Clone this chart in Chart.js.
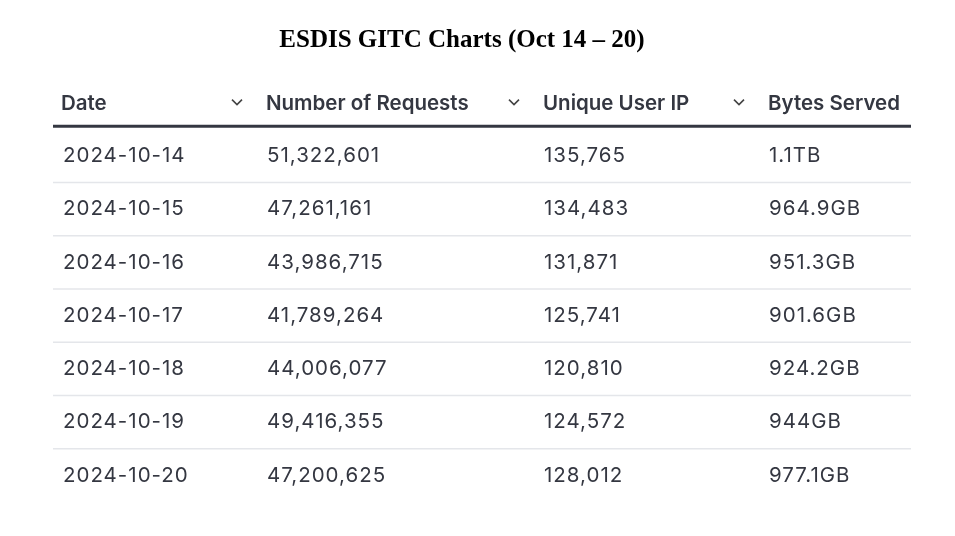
<!DOCTYPE html>
<html><head><meta charset="utf-8">
<script src="https://cdn.jsdelivr.net/npm/chart.js@4/dist/chart.umd.min.js"></script>
<style>html,body{margin:0;background:#fff}#wrap{width:955px;height:536px}</style>
</head><body><div id="wrap"><canvas id="c"></canvas></div>
<script>
const headers = ['Date','Number of Requests','Unique User IP','Bytes Served'];
const dates = ['2024-10-14','2024-10-15','2024-10-16','2024-10-17','2024-10-18','2024-10-19','2024-10-20'];
const requests = ['51,322,601','47,261,161','43,986,715','41,789,264','44,006,077','49,416,355','47,200,625'];
const uniqueIPs = ['135,765','134,483','131,871','125,741','120,810','124,572','128,012'];
const bytesServed = ['1.1TB','964.9GB','951.3GB','901.6GB','924.2GB','944GB','977.1GB'];
const titleText = 'ESDIS GITC Charts (Oct 14 \u2013 20)';

const colStart = [0, 202, 479, 704];
const tablePlugin = {
  id:'table',
  afterDraw(chart){
    const ctx = chart.ctx, y = chart.scales.y, a = chart.chartArea;
    const L = a.left, R = a.right;
    const cols = [dates, requests, uniqueIPs, bytesServed];
    ctx.save();
    ctx.fillStyle = '#000'; ctx.font = 'bold 25px "Liberation Serif", "Times New Roman", serif';
    ctx.textAlign = 'center'; ctx.textBaseline = 'middle';
    ctx.fillText(titleText, 462, 41);
    ctx.textAlign = 'left';
    const rowH = Math.abs(y.getPixelForValue(1) - y.getPixelForValue(0));
    const hy = y.getPixelForValue(0);
    ctx.font = '600 20.5px Inter, "Noto Sans", sans-serif'; ctx.fillStyle = '#343741';
    headers.forEach((h,i)=>{ ctx.fillText(h, L + colStart[i] + (i===0?8:11), hy+1); });
    ctx.strokeStyle = '#444'; ctx.lineWidth = 1.6;
    [colStart[1], colStart[2], colStart[3]].forEach(cx=>{
      const x = L + cx - 18;
      ctx.beginPath(); ctx.moveTo(x-5, hy-3); ctx.lineTo(x, hy+2); ctx.lineTo(x+5, hy-3); ctx.stroke();
    });
    ctx.strokeStyle = '#343741'; ctx.lineWidth = 3;
    ctx.beginPath(); ctx.moveTo(L, hy + rowH/2 - 3); ctx.lineTo(R, hy + rowH/2 - 3); ctx.stroke();
    ctx.font = '20.5px Inter, "Noto Sans", sans-serif'; ctx.fillStyle = '#343741';
    ctx.letterSpacing = '1px';
    dates.forEach((d,r)=>{
      const cy = y.getPixelForValue(r+1);
      cols.forEach((col,i)=>{ ctx.fillText(col[r], L + colStart[i] + (i===0?10:12), cy); });
      if (r < dates.length-1) {
        ctx.strokeStyle = '#e4e6ea'; ctx.lineWidth = 1.5;
        ctx.beginPath(); ctx.moveTo(L, cy + rowH/2); ctx.lineTo(R, cy + rowH/2); ctx.stroke();
      }
    });
    ctx.restore();
  }
};
new Chart(document.getElementById('c'), {
  type:'bar',
  data:{ labels:['header', ...dates], datasets:[{data:[], backgroundColor:'transparent'}] },
  options:{
    responsive:true, maintainAspectRatio:false, animation:false,
    indexAxis:'y',
    layout:{padding:{left:53,right:44,top:76,bottom:34}},
    plugins:{legend:{display:false},title:{display:false},tooltip:{enabled:false}},
    scales:{ y:{type:'category',display:false,offset:true}, x:{display:false,min:0,max:1} }
  },
  plugins:[tablePlugin]
});
</script></body></html>
